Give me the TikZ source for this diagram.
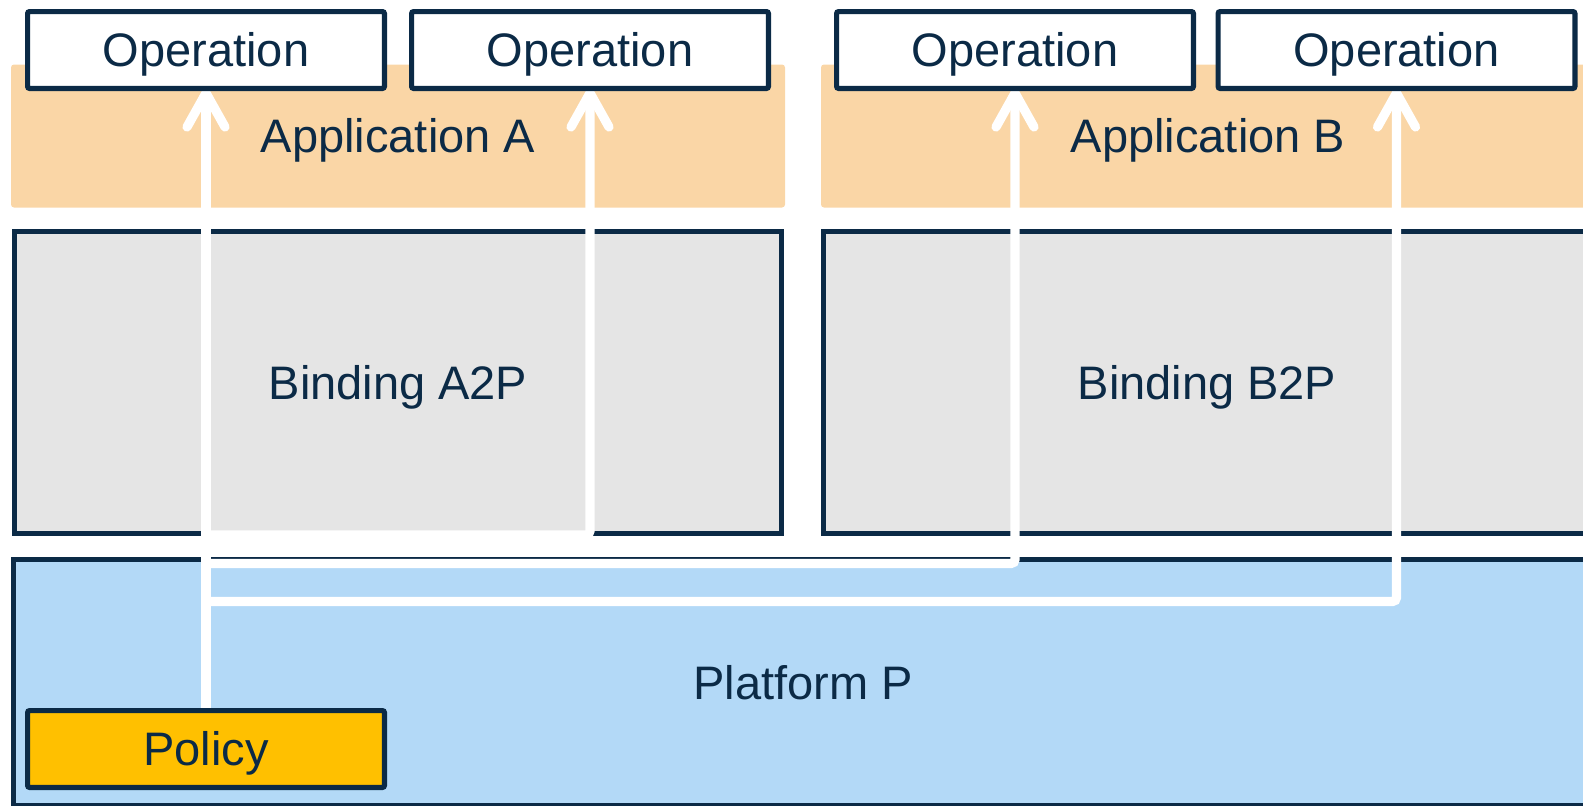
\documentclass[tikz,border=0pt]{standalone}
\usepackage{fontspec}
\setmainfont{Liberation Sans}
\usetikzlibrary{arrows.meta}

\definecolor{navy}{HTML}{0B2A46}
\definecolor{bandorange}{HTML}{FAD6A6}
\definecolor{bindgray}{HTML}{E5E5E5}
\definecolor{platblue}{HTML}{B3D9F7}
\definecolor{policyyellow}{HTML}{FFC000}

\pgfdeclarelayer{back}
\pgfdeclarelayer{links}
\pgfsetlayers{back,links,main}

\begin{document}
\begin{tikzpicture}[x=0.5pt,y=-0.5pt,
  every node/.style={font=\fontsize{23.5}{28}\selectfont, text=navy,
    inner sep=0pt, outer sep=0pt, text height=16.9pt, text depth=0pt},
  opbox/.style={draw=navy, line width=2.6pt, fill=white,
    minimum width=178.4pt, minimum height=38.4pt, rounded corners=1pt},
  policybox/.style={opbox, fill=policyyellow},
  band/.style={fill=bandorange, rounded corners=1.5pt,
    minimum width=387pt, minimum height=71.5pt},
  bindbox/.style={draw=navy, line width=2.6pt, fill=bindgray,
    minimum width=383.5pt, minimum height=151pt},
  platbox/.style={draw=navy, line width=2.6pt, fill=platblue,
    minimum width=789.4pt, minimum height=122.9pt},
  flow/.style={draw=white, line width=4.6pt, rounded corners=2pt, line cap=butt,
    -{Straight Barb[length=17pt,width=19pt,round]}}
]
\clip (0,0) rectangle (1583,805);

% layers of the stack
\begin{pgfonlayer}{back}
  \node[band] (appA) at (398,136) {Application A};
  \node[band] (appB) at (1208,136) {Application B};
  \node[bindbox] (bindA) at (398,382.5) {Binding A2P};
  \node[bindbox] (bindB) at (1207,382.5) {Binding B2P};
  \node[platbox] (plat) at (803,682.5) {Platform P};
\end{pgfonlayer}

% operations and the policy
\node[opbox] (op1) at (206,50) {Operation};
\node[opbox] (op2) at (590,50) {Operation};
\node[opbox] (op3) at (1015,50) {Operation};
\node[opbox] (op4) at (1396.5,50) {Operation};
\node[policybox] (pol) at (206,749) {Policy};

% branch points on the policy trunk
\coordinate (b2) at (206,535);
\coordinate (b3) at (206,563.5);
\coordinate (b4) at (206,601.5);

% policy propagation
\begin{pgfonlayer}{links}
  \draw[flow] (pol.north) -- (op1.south);
  \draw[flow] (b2) -| (op2.south);
  \draw[flow] (b3) -| (op3.south);
  \draw[flow] (b4) -| (op4.south);
\end{pgfonlayer}
\end{tikzpicture}
\end{document}
